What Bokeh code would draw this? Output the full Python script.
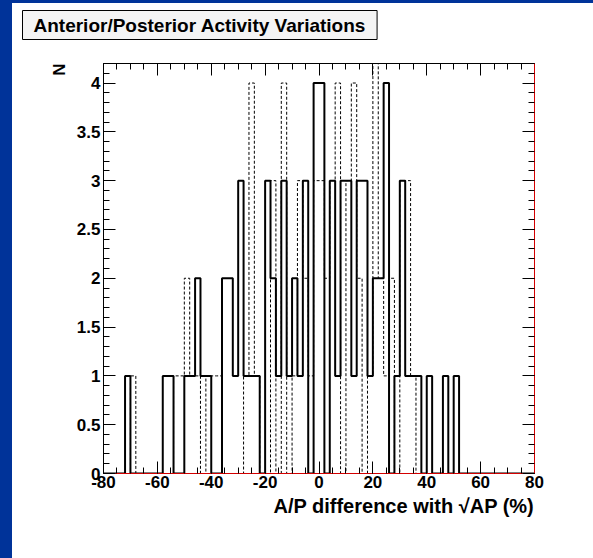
import numpy as np
from bokeh.plotting import figure
from bokeh.models import (Range1d, SingleIntervalTicker, LinearAxis, Title,
                          CustomJSTickFormatter, Spacer)
from bokeh.layouts import row, column
from bokeh.embed import file_html
from bokeh.resources import INLINE

# ---- data (2-unit bins from -80 to 80; left edges of non-empty bins) ----
x_lo, x_hi, bin_width = -80, 80, 2
solid_left = [-72, -58, -56, -50, -48, -46, -44, -42, -36, -34, -32, -30, -28,
              -26, -24, -20, -18, -16, -14, -12, -10, -8, -6, -2, 0, 4, 6, 8,
              10, 12, 14, 16, 18, 20, 22, 24, 28, 30, 32, 34, 36, 40, 46, 50]
solid_count = [1, 1, 1, 1, 1, 2, 1, 1, 2, 2, 1, 3, 1,
               1, 1, 3, 2, 1, 3, 1, 2, 1, 3, 4, 4, 3, 1, 3,
               3, 1, 3, 3, 1, 2, 2, 4, 1, 3, 1, 1, 1, 1, 1, 1]
dashed_left = [-70, -54, -52, -50, -48, -46, -42, -40, -38, -28, -26, -24,
               -18, -14, -10, -8, -6, -4, -2, 0, 2, 4, 6, 10, 12, 14,
               18, 20, 22, 24, 26, 30, 32, 34]
dashed_count = [1, 1, 1, 2, 1, 1, 1, 1, 1, 1, 4, 1,
                3, 4, 1, 3, 2, 1, 3, 3, 2, 3, 4, 3, 4, 2,
                1, 5, 2, 1, 2, 3, 3, 1]

y_max = 4.2
title_text = "Anterior/Posterior Activity Variations"
x_title = "A/P difference with \u221AAP (%)"
y_title = "N"


def outline(lefts, counts):
    n = int((x_hi - x_lo) / bin_width)
    full = np.zeros(n)
    for l, c in zip(lefts, counts):
        full[int(round((l - x_lo) / bin_width))] = c
    edges = x_lo + bin_width * np.arange(n + 1)
    xs = np.repeat(edges, 2)
    ys = np.concatenate([[0.0], np.repeat(full, 2), [0.0]])
    return xs, ys


FONT = "Liberation Sans"

# ---- title strip (holds the boxed title) ----
tf = figure(width=581, height=45, x_range=Range1d(0, 1), y_range=Range1d(0, 1),
            output_backend="svg", toolbar_location=None,
            x_axis_location=None, y_axis_location=None,
            min_border_left=91, min_border_right=59,
            min_border_top=0, min_border_bottom=0)
tf.grid.visible = False
tf.outline_line_color = None
tf.background_fill_color = "white"
tf.border_fill_color = "white"
mt = Title(text=title_text, align="left", offset=-81, text_font=FONT,
           text_font_style="bold", text_font_size="19px", text_color="black",
           background_fill_color="#f4f4f4", border_line_color="black",
           border_line_width=1, padding=(11, 4), standoff=10)
tf.add_layout(mt, "above")

# ---- main histogram plot ----
p = figure(width=581, height=510,
           x_range=Range1d(x_lo, x_hi), y_range=Range1d(0, y_max),
           output_backend="svg", toolbar_location=None,
           x_axis_location=None, y_axis_location=None,
           min_border_left=91, min_border_right=59,
           min_border_top=15, min_border_bottom=85)
p.grid.visible = False
p.outline_line_color = None
p.background_fill_color = "white"
p.border_fill_color = "white"

dx, dy = outline(dashed_left, dashed_count)
p.line(dx, dy, line_color="black", line_width=1, line_dash="3 2")
sx, sy = outline(solid_left, solid_count)
p.line(sx, sy, line_color="black", line_width=2)


def make_axis(kind, labels, line_color):
    if kind == "x":
        ticker = SingleIntervalTicker(interval=20, num_minor_ticks=4)
    else:
        ticker = SingleIntervalTicker(interval=0.5, num_minor_ticks=5)
    ax = LinearAxis(ticker=ticker)
    ax.axis_line_color = line_color
    ax.axis_line_width = 1
    ax.major_tick_in = 12
    ax.major_tick_out = 0
    ax.minor_tick_in = 6
    ax.minor_tick_out = 0
    ax.major_tick_line_color = "black"
    ax.minor_tick_line_color = "black"
    ax.major_label_text_font = FONT
    ax.major_label_text_font_style = "bold"
    ax.formatter = CustomJSTickFormatter(
        code="return (Math.round(tick*10)/10).toString();")
    if labels:
        ax.major_label_text_color = "black"
        ax.major_label_text_font_size = "17px"
        ax.major_label_standoff = 3
    else:
        ax.major_label_text_color = None
        ax.major_label_text_font_size = "1px"
        ax.major_label_standoff = 0
    return ax


xb = make_axis("x", True, "#d40000")
xb.major_label_standoff = 2
p.add_layout(xb, "below")
yl = make_axis("y", True, "black")
p.add_layout(yl, "left")
p.add_layout(make_axis("x", False, "black"), "above")
p.add_layout(make_axis("y", False, "#d40000"), "right")

xt = Title(text=x_title, align="right", text_font=FONT, text_font_style="bold",
           text_font_size="20px", text_color="black", standoff=5)
p.add_layout(xt, "below")
yt = Title(text=y_title, align="right", text_font=FONT, text_font_style="bold",
           text_font_size="17px", text_color="black")
p.add_layout(yt, "left")

BLUE = "#003399"
left_bar = Spacer(width=12, height=558, styles={"background-color": BLUE})
top_bar = Spacer(width=581, height=3, styles={"background-color": BLUE})
layout = row(left_bar, column(top_bar, tf, p, spacing=0), spacing=0)

open("out.html", "w").write(file_html(layout, INLINE))
